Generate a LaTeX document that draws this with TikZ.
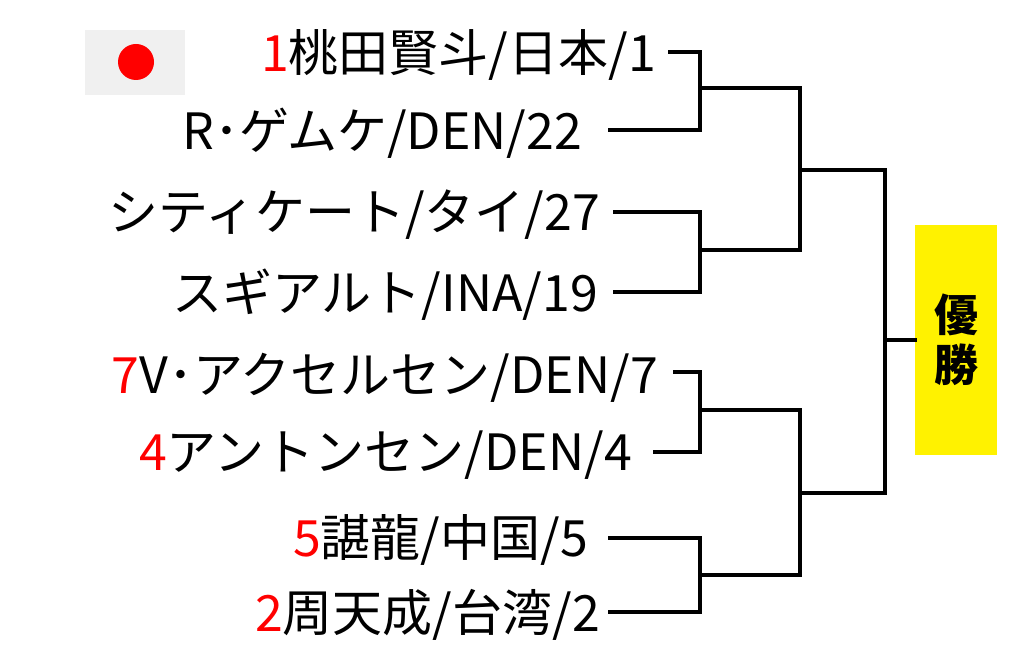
\documentclass[tikz,border=0pt]{standalone}
\usepackage{fontspec}
\setmainfont{Noto Sans CJK JP}
\usepackage{tikz}
\tikzset{
  player/.style = {anchor=east, inner sep=0pt, font=\fontsize{50}{54}\selectfont},
  bracket/.style = {draw, line width=4pt, line cap=rect},
}
\newcommand{\sd}[1]{\textcolor{red}{#1}}

\begin{document}
\begin{tikzpicture}
	[
		x = 1pt,
		y = -1pt,
	]
	\useasboundingbox (0,0) rectangle (1024,663);
	% flag
	\fill[black!6] (85,30) rectangle (185,95);
	\fill[red] (136,62) circle (18);
	% players
	\node [player] (p1) at (656,55) {\sd{1}桃田賢斗/日本/1};
	\node [player] (p2) at (582,133) {R･ゲムケ/DEN/22};
	\node [player] (p3) at (600,215) {シティケート/タイ/27};
	\node [player] (p4) at (598,295) {スギアルト/INA/19};
	\node [player] (p5) at (658,378) {\sd{7}V･アクセルセン/DEN/7};
	\node [player] (p6) at (632,455) {\sd{4}アントンセン/DEN/4};
	\node [player] (p7) at (588,540) {\sd{5}諶龍/中国/5};
	\node [player] (p8) at (600,615) {\sd{2}周天成/台湾/2};
	% final
	\node [fill=yellow, minimum width=82pt, minimum height=230pt, inner sep=0pt,
		align=center, font=\fontsize{44}{50}\selectfont\bfseries] (win) at (956,340) {優\\勝};
	% round 1
	\coordinate (a1) at (670,52);  \coordinate (a2) at (610,130);
	\coordinate (b1) at (615,212); \coordinate (b2) at (615,292);
	\coordinate (c1) at (675,372); \coordinate (c2) at (655,452);
	\coordinate (d1) at (610,538); \coordinate (d2) at (610,612);
	\draw [bracket] (a1) -- (700,52) -- (700,130) -- (a2);
	\draw [bracket] (b1) -- (700,212) -- (700,292) -- (b2);
	\draw [bracket] (c1) -- (700,372) -- (700,452) -- (c2);
	\draw [bracket] (d1) -- (700,538) -- (700,612) -- (d2);
	% semis
	\draw [bracket] (700,88) -- (800,88) -- (800,250) -- (700,250);
	\draw [bracket] (700,410) -- (800,410) -- (800,575) -- (700,575);
	% final
	\draw [bracket] (800,170) -- (885,170) -- (885,493) -- (800,493);
	\draw [bracket] (885,340) -- (win.west);
\end{tikzpicture}
\end{document}
